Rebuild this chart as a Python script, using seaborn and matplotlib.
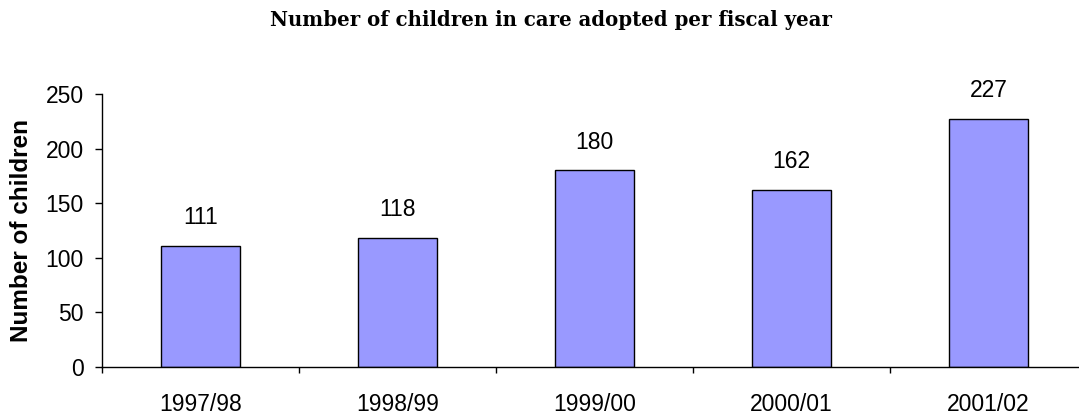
import matplotlib
matplotlib.use("Agg")
import matplotlib.pyplot as plt
import seaborn as sns
import pandas as pd
from matplotlib.ticker import FixedLocator

years = ["1997/98", "1998/99", "1999/00", "2000/01", "2001/02"]
children = [111, 118, 180, 162, 227]
yticks = [0, 50, 100, 150, 200, 250]

sns.set_theme(style="white")
plt.rcParams['font.family'] = ['Liberation Sans', 'DejaVu Sans']
plt.rcParams['text.color'] = 'black'
plt.rcParams['axes.labelcolor'] = 'black'
plt.rcParams['xtick.color'] = 'black'
plt.rcParams['ytick.color'] = 'black'

df = pd.DataFrame({"year": years, "children": children})

fig = plt.figure(figsize=(10.79, 4.16), dpi=100)
ax = fig.add_axes([102/1079, 49/416, 985/1079, 273/416])

sns.barplot(data=df, x="year", y="children", color="#9999FF", saturation=1,
            width=0.4, edgecolor="black", linewidth=1, ax=ax)

ax.set_xlim(-0.5, len(years) - 0.5)
ax.set_ylim(0, 250)
ax.set_yticks(yticks)
ax.set_xlabel("")
ax.set_ylabel("Number of children", fontsize=17.5, fontweight="bold", labelpad=9)

for s in ["top", "right"]:
    ax.spines[s].set_visible(False)
for s in ["left", "bottom"]:
    ax.spines[s].set_color("black")
    ax.spines[s].set_linewidth(1)

ax.tick_params(axis="y", direction="out", length=5, width=1, color="black",
               labelsize=16.5, labelcolor="black", pad=8, left=True)
ax.tick_params(axis="x", which="major", length=0, labelsize=16.5,
               labelcolor="black", pad=19)
ax.xaxis.set_minor_locator(FixedLocator([i - 0.5 for i in range(len(years) + 1)]))
ax.tick_params(axis="x", which="minor", direction="out", length=4.5, width=1,
               color="black", bottom=True)

ax.bar_label(ax.containers[0], labels=[str(v) for v in children],
             padding=12, fontsize=16.5, color="black")

fig.text(551/1079, 1 - 20/416, "Number of children in care adopted per fiscal year",
         ha="center", va="center", fontsize=14.2, fontweight="bold", color="black",
         family=["DejaVu Serif"])

fig.savefig("out.png", dpi=100)
